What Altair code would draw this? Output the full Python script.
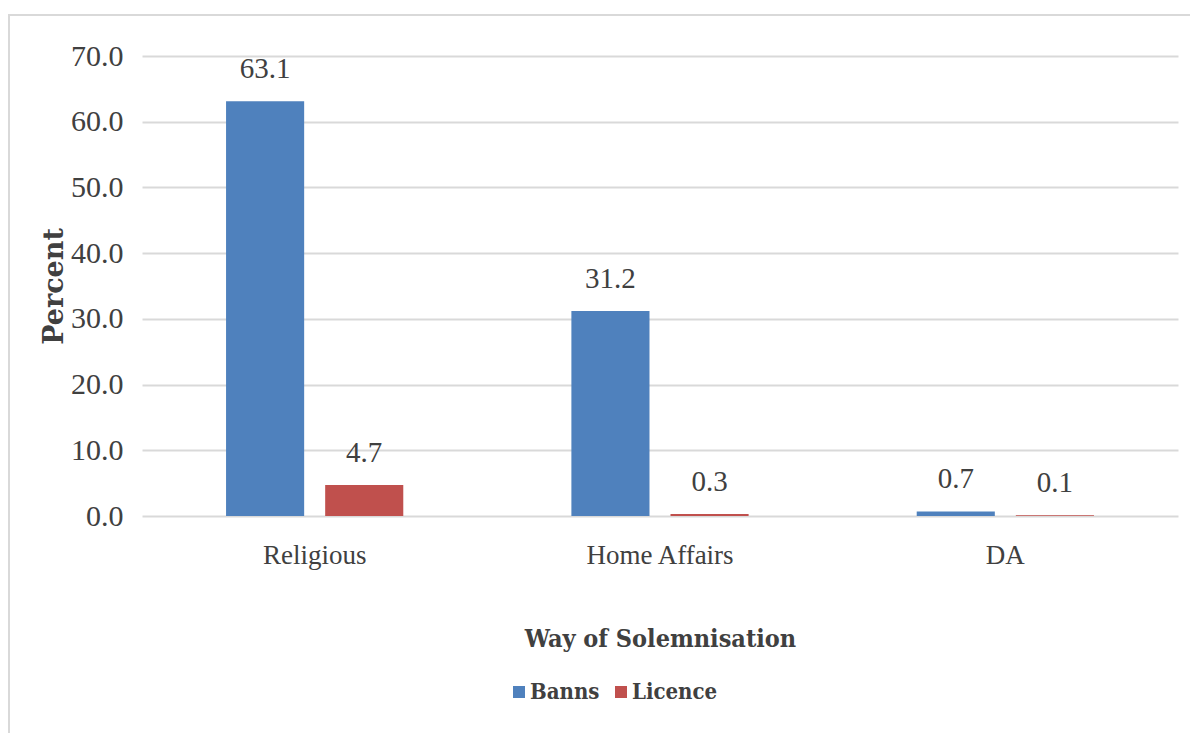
import altair as alt
import pandas as pd

categories = ["Religious", "Home Affairs", "DA"]
series = ["Banns", "Licence"]
banns = [63.1, 31.2, 0.7]
licence = [4.7, 0.3, 0.1]
y_ticks = [0, 10, 20, 30, 40, 50, 60, 70]
colors = ["#4F81BD", "#C0504D"]

rows = []
for c, b, l in zip(categories, banns, licence):
    rows.append({"Way": c, "Type": "Banns", "Value": b})
    rows.append({"Way": c, "Type": "Licence", "Value": l})
df = pd.DataFrame(rows)

SERIF = "Liberation Serif"
BOLD = "DejaVu Serif Condensed"
TXT = "#404040"

x = alt.X(
    "Way:N",
    sort=categories,
    scale=alt.Scale(paddingInner=0, paddingOuter=0),
    axis=alt.Axis(
        title="Way of Solemnisation",
        labelAngle=0,
        labelFont=SERIF,
        labelFontSize=27,
        labelColor=TXT,
        labelPadding=26,
        ticks=False,
        domain=False,
        titleFont=BOLD,
        titleFontSize=25,
        titleFontWeight="bold",
        titleColor=TXT,
        titlePadding=58,
    ),
)
xoff = alt.XOffset(
    "Type:N",
    sort=series,
    scale=alt.Scale(paddingInner=0.212, paddingOuter=0.848),
)
y = alt.Y(
    "Value:Q",
    scale=alt.Scale(domain=[0, 70], nice=False),
    axis=alt.Axis(
        values=y_ticks,
        format=".1f",
        title="Percent",
        grid=True,
        gridColor="#d9d9d9",
        gridWidth=2,
        domain=False,
        ticks=False,
        labelFont=SERIF,
        labelFontSize=30,
        labelColor=TXT,
        labelPadding=19,
        titleFont="DejaVu Serif",
        titleFontSize=27,
        titleFontWeight="bold",
        titleColor=TXT,
        titlePadding=2,
    ),
)
color = alt.Color(
    "Type:N",
    sort=series,
    scale=alt.Scale(domain=series, range=colors),
    legend=alt.Legend(
        title=None,
        orient="none",
        legendX=366,
        legendY=625,
        direction="horizontal",
        symbolType="square",
        symbolSize=144,
        symbolStrokeWidth=0,
        labelFont=BOLD,
        labelFontSize=22,
        labelFontWeight="bold",
        labelColor=TXT,
        labelOffset=0,
        columnPadding=10,
    ),
)

base = alt.Chart(df)
bars = base.mark_bar().encode(x=x, xOffset=xoff, y=y, color=color)
labels = base.mark_text(
    baseline="bottom", dy=-17, font=SERIF, fontSize=29, color=TXT
).encode(
    x=alt.X("Way:N", sort=categories),
    xOffset=alt.XOffset("Type:N", sort=series),
    y="Value:Q",
    text=alt.Text("Value:Q", format=".1f"),
)

frame = alt.Chart(pd.DataFrame({"a": [0]})).mark_rect(
    filled=False, stroke="#d9d9d9", strokeWidth=2
).encode(
    x=alt.value(-133), x2=alt.value(1080), y=alt.value(-41), y2=alt.value(720)
)

chart = alt.layer(frame, bars, labels).properties(
    width=1036,
    height=460,
    autosize="none",
    padding={"left": 134, "top": 48, "right": 12, "bottom": 217},
).configure_view(stroke=None)

chart.save("out.html", embed_options={"renderer": "svg", "actions": False})
